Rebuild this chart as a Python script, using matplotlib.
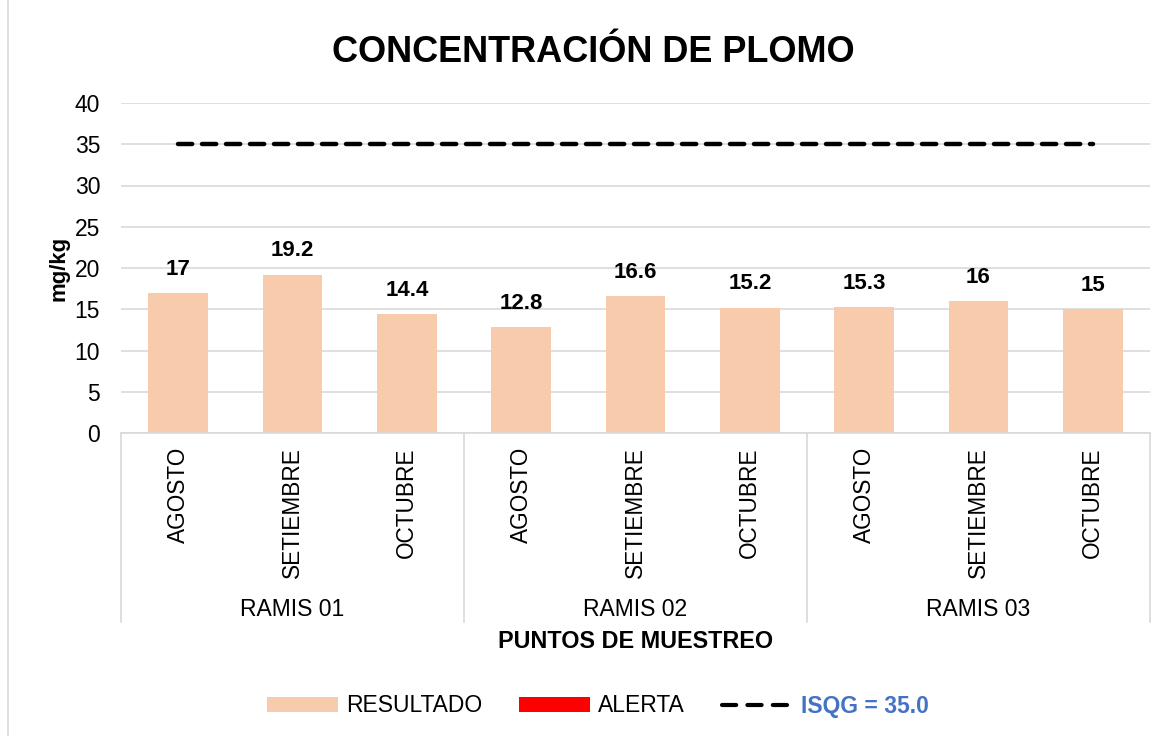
import matplotlib.pyplot as plt
from matplotlib.patches import Patch, Rectangle
from matplotlib.lines import Line2D
import matplotlib.transforms as mtransforms

plt.rcParams['font.family'] = ['Liberation Sans', 'DejaVu Sans']

# datos
puntos = ["RAMIS 01", "RAMIS 02", "RAMIS 03"]
meses = ["AGOSTO", "SETIEMBRE", "OCTUBRE"]
resultado = [17, 19.2, 14.4, 12.8, 16.6, 15.2, 15.3, 16, 15]
etiquetas = ["17", "19.2", "14.4", "12.8", "16.6", "15.2", "15.3", "16", "15"]
isqg = 35.0

W, H = 1168, 736
fig = plt.figure(figsize=(W / 100, H / 100), dpi=100)
fig.patch.set_facecolor("white")

# borde del area del grafico
fig.patches.append(Rectangle((8 / W, -0.01), 1.02, 1.02, transform=fig.transFigure,
                             fill=False, edgecolor="#d9d9d9", linewidth=1.2))

x0, x1, y0, y1 = 121, 1150, 433, 103
ax = fig.add_axes([x0 / W, 1 - y0 / H, (x1 - x0) / W, (y0 - y1) / H])

x = list(range(len(resultado)))
ax.bar(x, resultado, width=0.52, color="#F8CBAD", zorder=2)
for xi, v, t in zip(x, resultado, etiquetas):
    ax.text(xi, v + 1.6, t, ha="center", va="bottom", fontsize=16, fontweight="bold")

ax.plot([x[0], x[-1]], [isqg, isqg], color="black", linewidth=3.2,
        dashes=(3.2, 2.2), dash_capstyle="round", zorder=3)

ax.set_xlim(-0.5, len(resultado) - 0.5)
ax.set_ylim(0, 40)
ax.set_yticks(range(0, 41, 5))
ax.tick_params(axis="y", length=0, labelsize=16.5, pad=15)
ax.set_xticks([])
ax.grid(axis="y", color="#d9d9d9", linewidth=1.2, zorder=0)
for s in ["top", "right", "left"]:
    ax.spines[s].set_visible(False)
ax.spines["bottom"].set_color("#d9d9d9")
ax.spines["bottom"].set_linewidth(1.2)
ax.set_ylabel("mg/kg", fontsize=16, fontweight="bold", labelpad=4)

trans = mtransforms.blended_transform_factory(ax.transData, ax.transAxes)
hpx = y0 - y1
for i in range(len(resultado)):
    ax.text(i, -14 / hpx, meses[i % 3], rotation=90, ha="center", va="top",
            fontsize=16.3, transform=trans)
for g, nombre in enumerate(puntos):
    ax.text(g * 3 + 1, -(610 - y0) / hpx, nombre, ha="center", va="center",
            fontsize=16.5, transform=trans)
for sep in [-0.5, 2.5, 5.5, 8.5]:
    ax.plot([sep, sep], [0, -(622 - y0) / hpx], color="#d9d9d9", linewidth=1.2,
            transform=trans, clip_on=False)
ax.text(0.5, -(641 - y0) / hpx, "PUNTOS DE MUESTREO", ha="center", va="center",
        fontsize=16.8, fontweight="bold", transform=ax.transAxes)

fig.text(593 / W, 1 - 52 / H, "CONCENTRACIÓN DE PLOMO", ha="center", va="center",
         fontsize=26, fontweight="bold")

handles = [Patch(facecolor="#F8CBAD", edgecolor="none"),
           Patch(facecolor="#FF0000", edgecolor="none"),
           Line2D([0], [0], color="black", linewidth=3.0, dashes=(3.4, 2.7),
                  dash_capstyle="round")]
leg = fig.legend(handles, ["RESULTADO", "ALERTA", "ISQG = 35.0"], ncol=3,
                 loc="center", bbox_to_anchor=(598 / W, 1 - 706 / H), frameon=False,
                 fontsize=16.5, handlelength=3.1, handleheight=0.65, columnspacing=1.6,
                 handletextpad=0.35)
leg.get_texts()[2].set_color("#4472C4")
leg.get_texts()[2].set_fontweight("bold")

fig.savefig("out.png", dpi=100)
